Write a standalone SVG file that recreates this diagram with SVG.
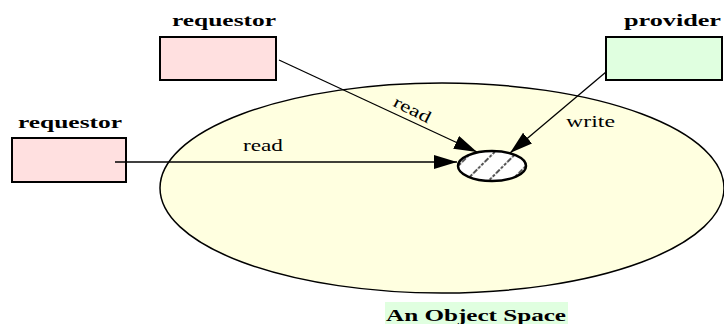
<svg xmlns="http://www.w3.org/2000/svg" width="724" height="324" viewBox="0 0 724 324">
<style>
  .box { stroke: #000; stroke-width: 2; }
  .req { fill: #ffe0e0; }
  .prov { fill: #e0ffe0; }
  .title { font-family: "Liberation Serif", "DejaVu Serif", "Times New Roman", serif; font-weight: bold; font-size: 16px; fill: #000; }
  .elabel { font-family: "Liberation Serif", "DejaVu Serif", "Times New Roman", serif; font-size: 17px; fill: #000; }
  .edge { stroke: #000; stroke-width: 1.3; fill: none; marker-end: url(#arrow); }
</style>
<defs>
  <marker id="arrow" markerUnits="userSpaceOnUse" markerWidth="26" markerHeight="16" refX="23" refY="7" orient="auto">
    <path d="M0,0 L23,7 L0,14 z" fill="#000"/>
  </marker>
  <pattern id="hatch" patternUnits="userSpaceOnUse" width="16" height="16" patternTransform="translate(492,166) rotate(-45)">
    <rect width="16" height="16" fill="#ffffff"/>
    <line x1="0" y1="8" x2="16" y2="8" stroke="#555" stroke-width="2" stroke-dasharray="3 1.5"/>
  </pattern>
</defs>
<rect width="724" height="324" fill="#ffffff"/>

<g id="object-space">
  <ellipse cx="442" cy="188" rx="282" ry="105" fill="#ffffe0" stroke="#000" stroke-width="1.5"/>
  <rect x="385" y="302" width="183" height="22" fill="#e0ffe0"/>
  <text class="title" x="386" y="321" font-size="20" textLength="180" lengthAdjust="spacingAndGlyphs">An Object Space</text>
</g>

<g id="requestor-top">
  <text class="title" x="172" y="26" textLength="104" lengthAdjust="spacingAndGlyphs">requestor</text>
  <rect class="box req" x="160" y="37" width="116" height="43"/>
</g>

<g id="requestor-left">
  <text class="title" x="18" y="128" textLength="104" lengthAdjust="spacingAndGlyphs">requestor</text>
  <rect class="box req" x="12" y="138" width="114" height="44"/>
</g>

<g id="provider">
  <text class="title" x="624" y="26" textLength="97" lengthAdjust="spacingAndGlyphs">provider</text>
  <rect class="box prov" x="606" y="37" width="116" height="43"/>
</g>

<g id="object">
  <ellipse cx="492" cy="166" rx="34" ry="15" fill="url(#hatch)" stroke="#000" stroke-width="2.5"/>
</g>

<g id="connectors">
  <line class="edge" x1="115" y1="162" x2="457" y2="162"/>
  <text class="elabel" x="243" y="151" textLength="40" lengthAdjust="spacingAndGlyphs">read</text>
  <line class="edge" x1="279" y1="60" x2="477" y2="152"/>
  <text class="elabel" transform="translate(412,110) rotate(27)" x="-20" y="5" textLength="40" lengthAdjust="spacingAndGlyphs">read</text>
  <line class="edge" x1="606" y1="72" x2="510" y2="153"/>
  <text class="elabel" x="566" y="127" textLength="49" lengthAdjust="spacingAndGlyphs">write</text>
</g>
</svg>
